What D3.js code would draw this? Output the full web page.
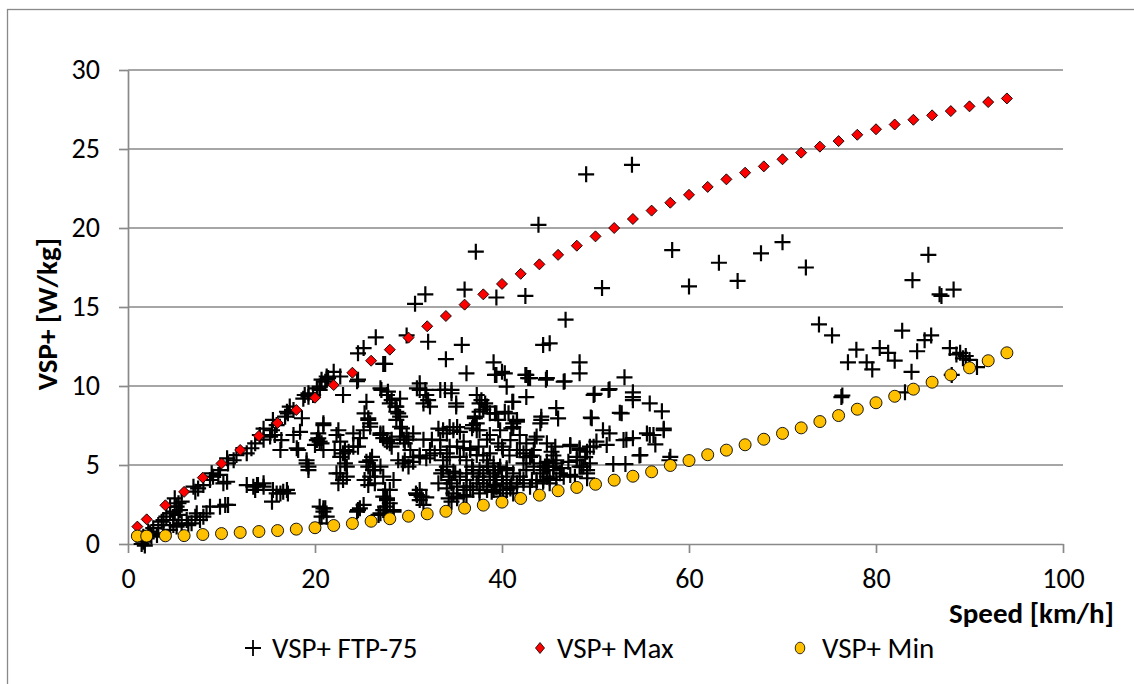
<!DOCTYPE html>
<html>
<head>
<meta charset="utf-8">
<script src="https://cdn.jsdelivr.net/npm/d3@7/dist/d3.min.js"></script>
<style>
  html, body { margin: 0; padding: 0; background: #fff; }
  svg { display: block; font-family: Carlito, Lato, "Open Sans", sans-serif; }
</style>
</head>
<body>
<svg id="chart" width="1134" height="684"></svg>
<script>
// ---- Data ----
const xTicks = [0, 20, 40, 60, 80, 100];
const yTicks = [0, 5, 10, 15, 20, 25, 30];
const seriesNames = ["VSP+ FTP-75", "VSP+ Max", "VSP+ Min"];
const xTitle = "Speed [km/h]";
const yTitle = "VSP+ [W/kg]";

const envSpeed = [1, 2, 4, 6, 8, 10, 12, 14, 16, 18, 20, 22, 24, 26, 28, 30, 32, 34, 36, 38, 40, 42, 44, 46, 48, 50, 52, 54, 56, 58, 60, 62, 64, 66, 68, 70, 72, 74, 76, 78, 80, 82, 84, 86, 88, 90, 92, 94];
const maxVsp = [1.1, 1.56, 2.45, 3.3, 4.2, 5.1, 5.95, 6.84, 7.66, 8.48, 9.26, 10.06, 10.84, 11.6, 12.3, 13.06, 13.78, 14.43, 15.15, 15.8, 16.46, 17.1, 17.7, 18.3, 18.88, 19.47, 20.0, 20.57, 21.1, 21.6, 22.1, 22.6, 23.08, 23.5, 23.9, 24.35, 24.77, 25.15, 25.5, 25.9, 26.25, 26.55, 26.85, 27.13, 27.4, 27.7, 27.97, 28.2];
const minVsp = [0.5, 0.5, 0.52, 0.53, 0.6, 0.66, 0.73, 0.79, 0.85, 0.94, 1.03, 1.17, 1.3, 1.44, 1.6, 1.76, 1.91, 2.07, 2.27, 2.46, 2.65, 2.88, 3.09, 3.37, 3.58, 3.78, 4.04, 4.29, 4.57, 4.97, 5.28, 5.65, 5.94, 6.28, 6.63, 7.0, 7.35, 7.75, 8.13, 8.53, 8.94, 9.35, 9.8, 10.24, 10.7, 11.15, 11.6, 12.1];

// FTP-75 cycle points: [speed, VSP+]
const ftpPoints = [
  [49.0,23.4],[53.9,24.0],[43.9,20.2],[37.2,18.5],[58.2,18.6],[50.7,16.2],[31.8,15.8],[30.7,15.2],[36.0,16.1],[39.4,15.6],[42.5,15.7],[46.8,14.2],
  [44.4,12.6],[45.1,12.7],[32.1,12.8],[35.7,12.6],[29.8,13.2],[34.0,11.7],[27.5,11.4],[39.1,11.5],[48.3,11.5],
  [60.0,16.3],[63.2,17.8],[65.2,16.65],[67.7,18.4],[70.0,19.1],[72.5,17.5],[85.6,18.3],[83.9,16.7],[86.8,15.8],[87.0,15.7],[88.3,16.1],
  [73.9,13.9],[75.3,13.2],[82.8,13.5],[77.9,12.3],[77.0,11.5],[79.0,11.5],[79.6,11.05],[80.4,12.4],[81.3,12.1],[82.0,11.6],[84.4,12.2],
  [83.8,10.9],[85.2,12.9],[85.9,13.2],[87.9,12.4],[89.0,12.1],[89.3,11.75],[90.0,11.65],[90.8,11.2],[88.1,10.7],[88.6,12.0],[89.6,11.9],
  [83.1,9.6],[76.3,9.3],[76.4,9.4],
  [55.8,8.9],[57.1,8.4],[57.3,7.3],[56.4,6.3],[57.9,5.3],
  [40.0,10.9],[40.3,10.8],[36.2,10.8],[42.5,10.7],[42.8,10.5],[44.7,10.4],[46.7,10.3],[48.3,10.8],[53.1,10.55],[51.5,9.8],[54.0,9.6],[54.0,9.3],
  [49.9,9.5],[52.6,8.3],[49.5,8.0],[45.8,8.6],[46.0,7.95],[44.2,7.85],[50.8,7.2],[51.5,7.0],[54.0,6.7],[53.3,6.6],[54.7,5.6],[51.9,5.06],
  [53.2,5.06],[55.5,7.0],[55.8,6.9],[49.8,6.16],[48.3,5.95],[48.9,5.5],[49.1,4.47],[48.3,4.9],[47.3,6.2],[45.7,6.16],[45.5,5.6],[43.5,6.6],
  [43.7,6.8],[41.1,9.0],[42.6,9.3],[41.6,7.74],[41.2,7.4],[40.3,8.37],[39.6,7.85],[37.3,9.43],[37.6,8.9],[38.0,8.5],[37.1,7.96],[36.9,7.53],
  [37.3,7.2],[35.1,8.7],[33.9,9.75],[34.6,9.75],[31.2,9.75],[31.9,9.43],[32.1,9.1],[32.3,8.7],[29.1,9.2],[28.7,8.7],[28.9,8.27],[28.7,7.85],
  [29.1,7.42],[27.0,9.85],[27.8,9.64],[27.0,6.9],[27.3,6.7],[28.2,6.6],[29.1,6.8],[29.5,6.6],[30.0,6.6],[30.5,7.0],[31.6,6.6],[32.5,6.6],
  [33.2,7.3],[33.7,7.2],[34.1,7.0],[34.4,7.4],[35.2,7.4],[35.5,7.1],[33.4,5.95],[34.1,5.74],[34.4,5.5],[33.7,5.3],[29.6,5.3],[30.5,5.5],
  [31.2,5.6],[32.3,5.6],[35.9,6.06],[36.6,5.95],[37.5,6.16],[38.0,5.6],[38.7,5.74],[39.6,6.37],[40.1,5.95],[40.8,5.6],[41.9,5.95],[42.6,5.5],
  [43.2,5.6],[42.3,5.1],[44.1,5.1],[44.6,4.9],[44.8,5.2],[45.5,4.9],[45.8,5.1],[46.4,4.8],[48.0,5.3],[48.5,4.9],[49.1,4.16],[43.2,4.05],
  [43.7,4.05],[44.4,3.94],[45.1,4.16],[42.3,3.84],
  [39.25,4.47],[40.0,4.26],[40.5,4.05],[41.0,3.84],[39.4,3.63],[40.1,3.42],[40.9,3.52],[41.6,3.63],[41.2,3.2],[39.8,3.0],[38.9,3.3],[40.5,4.8],
  [41.2,4.47],[41.9,4.26],[39.1,4.05],[39.6,4.68],
  [34.1,4.9],[34.8,4.58],[35.5,4.26],[36.2,4.05],[36.9,4.47],[37.6,4.68],[38.4,4.9],[34.4,4.05],[35.2,3.63],[35.9,3.42],[36.6,3.63],[37.3,3.84],
  [38.0,4.05],[35.2,3.0],[34.6,2.68],[37.6,3.2],[38.4,3.42],[36.2,3.0],[33.5,4.47],[33.2,3.84],
  [27.7,2.78],[27.3,2.15],[30.9,3.1],[31.2,2.78],[31.6,2.47],[30.8,3.2],[31.9,2.95],
  [21.25,10.6],[21.1,10.27],[20.2,9.85],[20.5,9.96],[18.9,9.43],[19.3,9.54],[17.3,8.7],[17.0,8.37],[18.6,7.96],[15.5,7.85],[15.9,7.53],[15.4,7.2],
  [15.7,6.9],[15.2,6.8],[14.5,7.3],[14.1,6.9],[14.5,6.6],[13.6,6.37],[13.2,6.06],[12.7,5.74],[11.6,5.63],[11.3,5.3],[10.7,5.1],[10.6,5.42],
  [9.84,4.68],[9.66,4.37],[9.1,4.26],[8.95,4.47],[8.77,4.05],[8.06,3.73],[7.5,3.52],[7.2,3.31],[7.0,3.63],[5.74,2.68],[5.2,2.36],[5.0,2.05],
  [5.56,2.15],[5.4,1.84],[4.85,1.52],[4.5,1.94],[4.1,1.73],[3.6,1.41],[3.24,1.2],[2.7,1.0],[2.35,0.68],[2.0,0.36],[1.64,0.15],[1.46,0.0],
  [10.2,3.84],[10.6,3.94],[12.7,3.73],[13.4,3.63],[13.9,3.73],[14.5,3.84],[15.4,2.68],[15.9,3.2],[16.6,3.31],[17.1,3.2],[19.3,4.9],[19.1,5.3],
  [18.2,5.95],[18.05,6.06],[16.3,5.95],[17.7,6.9],[18.4,7.1],[20.0,6.27],[20.5,6.48],[20.35,6.69],[20.9,5.95],[20.9,7.53],[9.84,2.36],[10.4,2.47],
  [10.7,2.47],[8.4,1.94],[8.06,1.73],[7.7,1.52],[7.2,1.73],[6.8,1.31],[6.45,1.2],[20.5,2.36],[20.9,2.05],[20.7,1.73],[4.85,1.2],[4.5,0.89],
  [3.8,0.68],[3.1,0.57],[2.5,0.46],[1.8,-0.1],
  [39.25,10.7],[23.0,9.43],[24.6,10.4],[21.25,10.4],[20.5,9.75],[25.5,9.0],[27.1,9.75],[27.7,9.43],[28.2,9.1],[28.6,8.7],[28.7,8.37],[29.1,8.06],
  [28.0,8.9],[30.9,9.85],[31.2,10.17],[31.8,9.75],[31.6,8.9],[33.4,9.75],[34.6,9.54],[35.1,8.9],[37.8,9.1],[38.4,8.7],[37.6,8.37],[37.1,8.06],
  [37.3,7.64],[36.8,7.32],[38.7,8.27],[39.4,8.27],[25.3,8.27],[25.7,7.96],[25.9,7.64],[20.9,7.64],[22.5,7.2],[24.1,7.0],[24.8,6.7],[24.6,6.16],
  [22.7,6.48],[22.1,5.95],[23.0,5.74],[23.6,5.84],[23.2,5.1],[23.4,4.26],[22.7,4.47],[25.9,5.3],[25.7,4.9],[25.9,4.26],[25.3,4.05],[26.4,4.68],
  [27.0,4.9],[27.0,7.0],[27.7,6.48],[28.2,6.16],[29.3,7.32],[29.8,6.8],[29.6,6.37],[30.2,5.95],[28.9,5.3],[29.4,5.1],[30.0,4.9],[30.5,5.2],
  [31.2,5.5],[31.9,5.42],[32.3,5.95],[32.8,5.74],[33.4,6.58],[34.8,7.2],[34.4,6.16],[35.2,6.16],[35.9,6.48],[36.6,6.06],[37.3,5.63],[36.2,5.3],
  [35.5,5.52],[36.8,4.9],[33.7,4.68],[34.3,4.26],[34.6,3.84],[34.1,3.52],[34.8,3.2],[35.0,4.47],[36.2,4.47],[36.9,4.68],[37.5,4.26],[38.0,4.47],
  [38.5,4.9],[39.1,4.68],[38.7,4.05],[39.25,3.73],[38.4,3.63],[37.6,3.42],[36.9,3.42],[36.2,3.63],[35.9,3.1],[35.2,2.89],[34.3,2.89],[27.5,3.42],
  [27.7,2.89],[28.0,2.58],[27.5,2.36],[28.4,2.15],[27.0,1.94],[25.2,2.47],[24.6,2.15],[20.9,2.26],[21.25,1.73],[20.5,1.31],[31.2,3.42],[31.4,3.0],
  [39.4,10.7],[42.6,10.7],[43.0,10.5],[44.8,10.5],[46.6,10.27],[40.5,9.96],[41.2,9.0],[38.2,8.9],[40.7,8.27],[41.6,7.85],[41.0,7.32],[39.8,7.2],
  [38.4,6.6],[40.0,6.16],[44.2,8.06],[44.1,7.64],[49.8,9.43],[51.4,9.75],[54.0,9.1],[52.8,8.27],[49.6,7.96],[50.1,6.48],[51.2,6.27],[53.0,6.58],
  [56.2,6.9],[57.3,7.2],[54.8,5.63],[47.3,6.27],[48.3,6.06],[49.1,5.84],[48.0,5.52],[49.4,6.16],[47.1,5.2],[58.0,5.52],
  [39.25,8.27],[41.2,7.64],[37.6,7.2],[38.7,6.9],[40.9,6.58],[41.9,6.9],[42.6,6.37],[43.4,5.95],[43.0,5.52],[42.3,5.74],[41.6,5.95],[44.8,6.37],
  [45.3,5.84],[45.8,5.3],[45.0,4.9],[44.4,4.68],
  [38.4,5.3],[39.1,5.1],[39.8,4.9],[40.5,4.68],[42.6,4.68],[43.4,4.9],[44.1,4.47],[44.8,4.26],[45.5,4.68],[46.2,4.47],[38.7,4.26],[39.4,4.05],
  [40.1,3.84],[40.9,3.63],[41.6,3.84],[42.3,4.05],[43.0,3.63],[43.7,3.84],[44.4,4.05],[45.1,3.84],[45.8,4.05],[46.6,4.26],[38.0,3.84],[39.1,3.42],
  [39.8,3.2],[40.5,3.42],[48.7,4.9],[49.1,4.68],[49.4,5.1],[47.3,4.37],[47.8,4.26],
  [26.5,13.08],[25.2,12.4],[24.6,12.07],[27.3,11.4],[24.5,10.3],[22.7,10.6],[22.0,10.9],[21.4,10.5],[20.7,10.4],[19.8,9.43],[19.3,9.32],[18.75,9.2],
  [17.7,8.48],[17.1,8.27],[16.8,8.06],[20.35,7.0],[20.2,6.58],[20.7,6.37],[22.3,6.9],[23.2,5.95],[22.7,5.52],[24.1,6.16],[22.3,4.47],[22.5,3.84],
  [23.0,4.05],[23.4,4.9],[25.7,7.85],[25.9,7.42],[25.2,7.2],[27.3,7.0],[27.7,6.58],[28.0,6.37],[26.1,5.52],[25.5,5.2],[26.2,4.68],[26.4,3.84],
  [25.7,3.73],[27.3,4.26],[28.4,4.05],[28.0,3.42],[27.3,3.0],[28.4,2.05],[27.7,1.84],[26.8,1.84],[24.8,2.26],[24.5,2.05],[21.1,2.26],[19.1,5.1],
  [19.3,4.68],[16.4,6.58],[15.5,3.42],[16.3,3.2],[17.0,3.42],[13.8,3.73],[14.5,3.63],[13.6,3.42],[8.77,2.36],[7.35,1.94],[6.28,1.52],[5.74,1.31],
  [5.2,1.1],[5.4,2.58],[4.5,2.36],[5.0,2.89],[3.8,1.52],[2.17,0.78],[1.64,0.46]
];

// ---- Layout ----
const svg = d3.select("#chart");
const x = d3.scaleLinear().domain([0, 100]).range([128, 1063]);
const y = d3.scaleLinear().domain([0, 30]).range([544, 70]);
const gridColor = "#898989";
const font = "Carlito, Lato, 'Open Sans', sans-serif";
const tickFont = 28;
const labelFont = 29;

// outer chart border
svg.append("rect")
  .attr("x", 7.5).attr("y", 9.5)
  .attr("width", 1160).attr("height", 700)
  .attr("fill", "none").attr("stroke", gridColor).attr("stroke-width", 1.3);

// horizontal gridlines
svg.append("g").selectAll("line")
  .data(yTicks.filter(d => d > 0))
  .join("line")
  .attr("x1", x(0)).attr("x2", x(100))
  .attr("y1", d => y(d)).attr("y2", d => y(d))
  .attr("stroke", gridColor).attr("stroke-width", 1.7);

// Y axis
const yAxis = svg.append("g")
  .attr("transform", `translate(${x(0)},0)`)
  .call(d3.axisLeft(y).tickValues(yTicks).tickSize(9).tickSizeOuter(0).tickPadding(19));
yAxis.select(".domain").attr("stroke", gridColor).attr("stroke-width", 1.7);
yAxis.selectAll(".tick line").attr("stroke", gridColor).attr("stroke-width", 1.7);
yAxis.selectAll("text").attr("font-size", tickFont).attr("font-family", font).attr("fill", "#000");

// X axis
const xAxis = svg.append("g")
  .attr("transform", `translate(0,${y(0)})`)
  .call(d3.axisBottom(x).tickValues(xTicks).tickSize(9).tickSizeOuter(0).tickPadding(15));
xAxis.select(".domain").attr("stroke", gridColor).attr("stroke-width", 1.7);
xAxis.selectAll(".tick line").attr("stroke", gridColor).attr("stroke-width", 1.7);
xAxis.selectAll("text").attr("font-size", tickFont).attr("font-family", font).attr("fill", "#000");

// Axis titles
svg.append("text")
  .attr("transform", `translate(57,314) rotate(-90)`)
  .attr("text-anchor", "middle")
  .attr("font-size", labelFont).attr("font-weight", "bold").attr("font-family", font)
  .text(yTitle);
svg.append("text")
  .attr("x", 1114).attr("y", 623)
  .attr("text-anchor", "end")
  .attr("font-size", labelFont).attr("font-weight", "bold").attr("font-family", font)
  .text(xTitle);

// markers
const plusPath = "M-8,0H8M0,-8V8";
const diamondPath = "M0,-5.5L5.5,0L0,5.5L-5.5,0Z";

svg.append("g").selectAll("path")
  .data(ftpPoints)
  .join("path")
  .attr("transform", d => `translate(${x(d[0])},${y(d[1])})`)
  .attr("d", plusPath)
  .attr("stroke", "#000").attr("stroke-width", 2.2).attr("fill", "none");

const envData = envSpeed.map((s, i) => ({ s, max: maxVsp[i], min: minVsp[i] }));

svg.append("g").selectAll("path")
  .data(envData)
  .join("path")
  .attr("transform", d => `translate(${x(d.s)},${y(d.max)})`)
  .attr("d", diamondPath)
  .attr("fill", "#FF0000").attr("stroke", "#000").attr("stroke-width", 0.9);

svg.append("g").selectAll("circle")
  .data(envData)
  .join("circle")
  .attr("cx", d => x(d.s)).attr("cy", d => y(d.min))
  .attr("r", 6)
  .attr("fill", "#FFC000").attr("stroke", "#000").attr("stroke-width", 0.9);

// Legend
const legendY = 648;
const legendItems = [
  { name: seriesNames[0], mx: 253, tx: 272, type: "plus" },
  { name: seriesNames[1], mx: 540, tx: 557, type: "diamond" },
  { name: seriesNames[2], mx: 800, tx: 822, type: "circle" }
];
const lg = svg.append("g");
legendItems.forEach(it => {
  if (it.type === "plus") {
    lg.append("path").attr("transform", `translate(${it.mx},${legendY})`)
      .attr("d", "M-8,0H8M0,-8V8").attr("stroke", "#000").attr("stroke-width", 1.8);
  } else if (it.type === "diamond") {
    lg.append("path").attr("transform", `translate(${it.mx},${legendY})`)
      .attr("d", "M0,-5.5L4.5,0L0,5.5L-4.5,0Z").attr("fill", "#FF0000").attr("stroke", "#000").attr("stroke-width", 0.8);
  } else {
    lg.append("ellipse").attr("cx", it.mx).attr("cy", legendY).attr("rx", 4.8).attr("ry", 5.8)
      .attr("fill", "#FFC000").attr("stroke", "#000").attr("stroke-width", 0.8);
  }
  lg.append("text").attr("x", it.tx).attr("y", legendY + 10)
    .attr("font-size", labelFont).attr("font-family", font).text(it.name);
});
</script>
</body>
</html>
